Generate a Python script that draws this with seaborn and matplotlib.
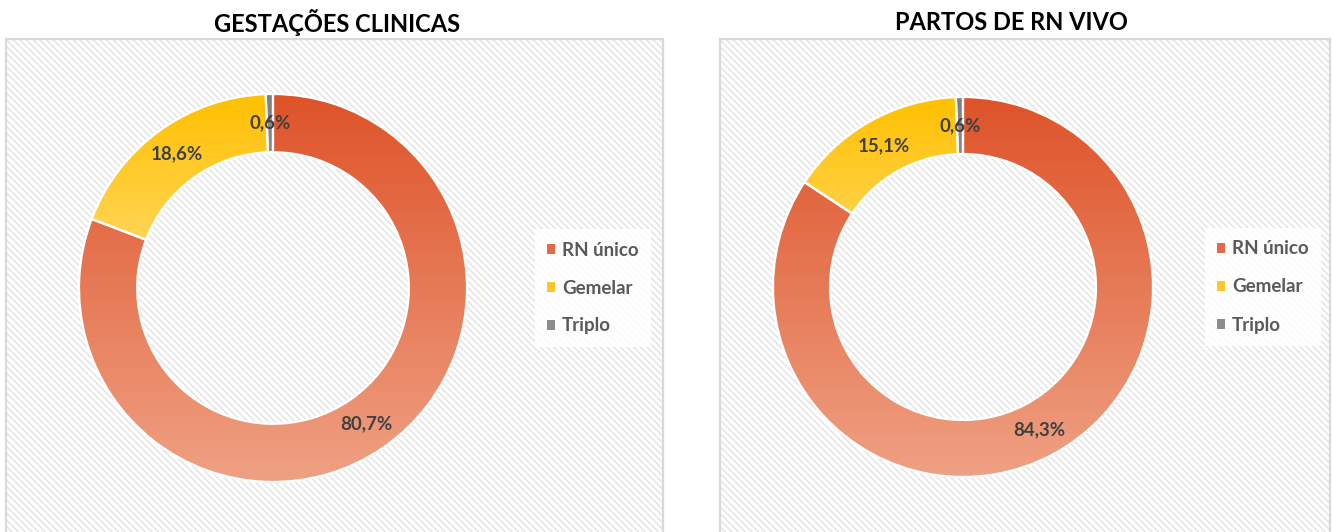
import numpy as np
import matplotlib
matplotlib.use("Agg")
import matplotlib.pyplot as plt
import seaborn as sns
from matplotlib.patches import Rectangle, Patch
from matplotlib.colors import LinearSegmentedColormap

# --- DATA ---
categories = ["RN único", "Gemelar", "Triplo"]
titles = ["GESTAÇÕES CLINICAS", "PARTOS DE RN VIVO"]
gestacoes = [80.7, 18.6, 0.6]
partos = [84.3, 15.1, 0.6]

# gradient colours (top, bottom) per category
grad_colors = {
    "RN único": ("#DE5329", "#EFA184"),
    "Gemelar": ("#FFC000", "#FFDB70"),
    "Triplo": ("#7F7F7F", "#A6A6A6"),
}
legend_colors = ["#E2694A", "#FFC62A", "#8C8C8C"]

sns.set_theme(style="white")
plt.rcParams["font.family"] = ["Lato", "DejaVu Sans"]
plt.rcParams["hatch.linewidth"] = 1.0

W, H = 1333, 532
fig = plt.figure(figsize=(W / 100, H / 100), dpi=100)


def px_axes(x0, y0, x1, y1):
    # pixel box (top-left origin) -> figure axes
    return fig.add_axes([x0 / W, 1 - y1 / H, (x1 - x0) / W, (y1 - y0) / H])


def fill_gradient(ax, wedge, top, bottom):
    verts = wedge.get_path().vertices
    x0, y0 = verts.min(axis=0)
    x1, y1 = verts.max(axis=0)
    cmap = LinearSegmentedColormap.from_list("g", [bottom, top])
    grad = np.linspace(0, 1, 256).reshape(-1, 1)
    im = ax.imshow(grad, cmap=cmap, extent=[x0, x1, y0, y1], origin="lower",
                   aspect="auto", zorder=1, interpolation="bilinear")
    im.set_clip_path(wedge)
    wedge.set_facecolor("none")
    wedge.set_zorder(2)


panels = [
    # panel box, donut centre + radius, title centre, legend anchor
    dict(box=(6, 39, 663, 600), c=(273, 288), r=194, tx=337, leg=(535, 288)),
    dict(box=(720, 39, 1330, 600), c=(963, 287), r=190, tx=1011, leg=(1205, 287)),
]

for p, title, vals in zip(panels, titles, [gestacoes, partos]):
    # hatched background panel
    bg = px_axes(*p["box"])
    bg.set_axis_off()
    bg.add_patch(Rectangle((0, 0), 1, 1, transform=bg.transAxes, facecolor="white",
                           edgecolor="#E2E2E2", hatch="\\" * 5, linewidth=0))
    bg.add_patch(Rectangle((0, 0), 1, 1, transform=bg.transAxes, facecolor="none",
                           edgecolor="#D9D9D9", linewidth=1.6, clip_on=False))

    fig.text(p["tx"] / W, 1 - 22 / H, title, ha="center", va="center",
             fontsize=17, fontweight="bold", color="black")

    cx, cy = p["c"]
    r = p["r"]
    ax = px_axes(cx - r, cy - r, cx + r, cy + r)
    labels_txt = iter([f"{v:.1f}".replace(".", ",") + "%" for v in vals])
    wedges, _, autotexts = ax.pie(
        vals, startangle=90, counterclock=False, radius=1,
        autopct=lambda pct: next(labels_txt), pctdistance=0.85,
        wedgeprops=dict(width=0.3, edgecolor="white", linewidth=1.6),
        textprops=dict(fontsize=13.5, fontweight="bold", color="#404040"),
    )
    for w, cat in zip(wedges, categories):
        fill_gradient(ax, w, *grad_colors[cat])
    for t in autotexts:
        t.set_zorder(5)
    ax.set_xlim(-1, 1)
    ax.set_ylim(-1, 1)
    ax.set_aspect("equal")
    ax.set_axis_off()

    handles = [Patch(facecolor=c, edgecolor="none") for c in legend_colors]
    lx, ly = p["leg"]
    leg = fig.legend(handles, categories, loc="center left",
                     bbox_to_anchor=(lx / W, 1 - ly / H), frameon=True,
                     fontsize=13.5, handlelength=0.44, handleheight=0.44,
                     handletextpad=0.35, labelspacing=1.12, borderpad=0.65,
                     borderaxespad=0, fancybox=False)
    leg.get_frame().set_facecolor("white")
    leg.get_frame().set_alpha(0.85)
    leg.get_frame().set_linewidth(0)
    for t in leg.get_texts():
        t.set_color("#595959")
        t.set_fontweight("bold")

plt.savefig("out.png", dpi=100)
plt.close()
